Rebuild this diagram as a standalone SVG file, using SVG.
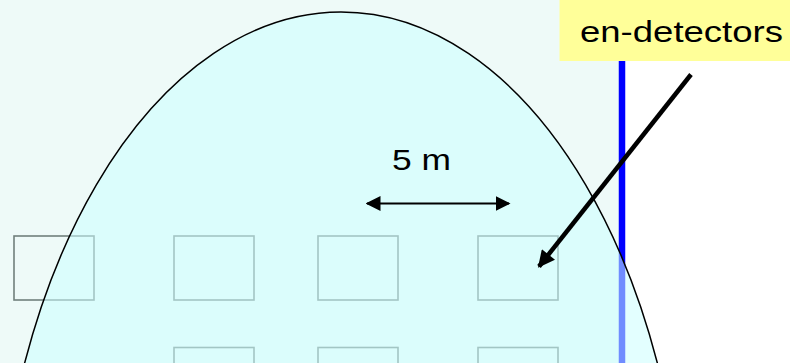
<svg xmlns="http://www.w3.org/2000/svg" width="790" height="363" viewBox="0 0 790 363">
  <defs>
    <style>
      .det { fill: none; stroke: #70807c; stroke-width: 1.6; }
      .lbl { font-family: "Liberation Sans", Arial, sans-serif; fill: #000000; }
    </style>
    <marker id="ah" viewBox="0 0 10 10" refX="9" refY="5" markerWidth="15" markerHeight="16" markerUnits="userSpaceOnUse" orient="auto-start-reverse">
      <path d="M0,0 L10,5 L0,10 Z" fill="#000"/>
    </marker>
    <marker id="ah2" viewBox="0 0 10 10" refX="9" refY="5" markerWidth="19" markerHeight="17" markerUnits="userSpaceOnUse" orient="auto">
      <path d="M0,0 L10,5 L0,10 Z" fill="#000"/>
    </marker>
  </defs>
  <rect x="0" y="0" width="790" height="363" fill="#ffffff"/>
  <rect x="0" y="0" width="622" height="363" fill="#eefaf8"/>
  <line x1="622" y1="0" x2="622" y2="363" stroke="#0000ff" stroke-width="6.5"/>
  <g id="detectors">
    <rect id="d1" class="det" x="14" y="236" width="80" height="64"/>
    <rect id="d2" class="det" x="174" y="236" width="80" height="64"/>
    <rect id="d3" class="det" x="318" y="236" width="80" height="64"/>
    <rect id="d4" class="det" x="478" y="236" width="80" height="64"/>
    <rect id="d5" class="det" x="174" y="347.5" width="80" height="64"/>
    <rect id="d6" class="det" x="318" y="347.5" width="80" height="64"/>
    <rect id="d7" class="det" x="478" y="347.5" width="80" height="64"/>
  </g>
  <g id="shower">
    <ellipse cx="341" cy="602" rx="346" ry="590" fill="#ccffff" fill-opacity="0.55" stroke="#000000" stroke-width="1.5"/>
  </g>
  <g id="label-box">
    <rect x="559.5" y="0" width="240" height="61" fill="#ffff99"/>
    <text class="lbl" x="580" y="41.5" font-size="30" textLength="203" lengthAdjust="spacingAndGlyphs">en-detectors</text>
  </g>
  <g id="distance-label">
    <text class="lbl" x="392" y="170" font-size="30" textLength="59" lengthAdjust="spacingAndGlyphs">5 m</text>
  </g>
  <g id="connectors">
    <line x1="367" y1="203.5" x2="509" y2="203.5" stroke="#000" stroke-width="2" marker-start="url(#ah)" marker-end="url(#ah)"/>
    <line x1="691" y1="74.5" x2="539" y2="266.5" stroke="#000" stroke-width="4.5" marker-end="url(#ah2)"/>
  </g>
</svg>
